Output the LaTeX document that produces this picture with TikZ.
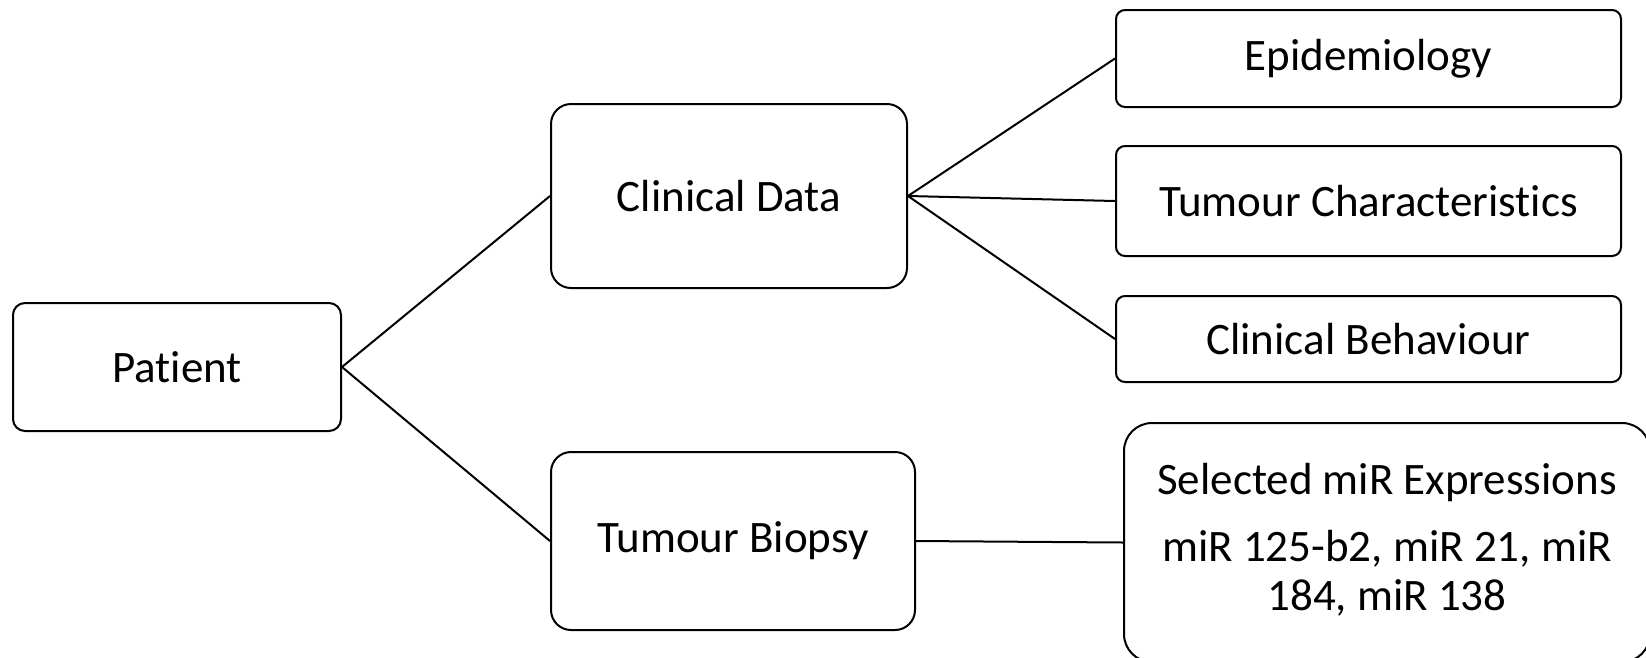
\documentclass[tikz,border=0pt]{standalone}
\usepackage{fontspec}
\setmainfont[RawFeature={-liga;-dlig}]{Carlito}
\begin{document}
\begin{tikzpicture}[x=1pt,y=-1pt,
  box/.style={draw=black,line width=2pt,inner sep=0pt,align=center,
    font=\fontsize{45}{49}\selectfont},
  link/.style={draw=black,line width=2pt}]
\useasboundingbox (0,0) rectangle (1646,657);
\clip (0,0) rectangle (1646,657);
\node[box,rounded corners=12pt,minimum width=328pt,minimum height=128pt] (p) at (177,367) {Patient};
\node[box,rounded corners=20pt,minimum width=356pt,minimum height=184pt] (cd) at (729,196) {Clinical Data};
\node[box,rounded corners=20pt,minimum width=364pt,minimum height=178pt] (tb) at (733,541) {Tumour Biopsy};
\node[box,rounded corners=9pt,minimum width=505pt,minimum height=97pt] (epi) at (1368.5,58.5) {Epidemiology};
\node[box,rounded corners=9pt,minimum width=505pt,minimum height=110pt] (tc) at (1368.5,201) {Tumour Characteristics};
\node[box,rounded corners=9pt,minimum width=505pt,minimum height=86pt] (cb) at (1368.5,339) {Clinical Behaviour};
\node[box,rounded corners=28pt,minimum width=526pt,minimum height=239pt] (mir) at (1387,542.5)
  {\begin{tabular}{@{}c@{}}Selected miR Expressions\\[18pt]miR 125-b2, miR 21, miR\\184, miR 138\end{tabular}};
\draw[link] (p.east) -- (cd.west);
\draw[link] (p.east) -- (tb.west);
\draw[link] (cd.east) -- (epi.west);
\draw[link] (cd.east) -- (tc.west);
\draw[link] (cd.east) -- (cb.west);
\draw[link] (tb.east) -- (mir.west);
\end{tikzpicture}
\end{document}
